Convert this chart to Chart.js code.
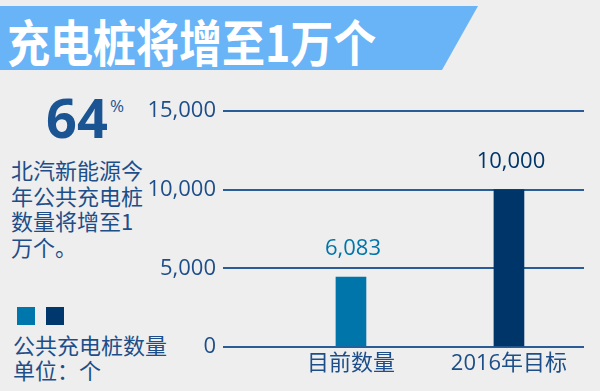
<!DOCTYPE html>
<html>
<head>
<meta charset="utf-8">
<script src="https://cdn.jsdelivr.net/npm/chart.js@4/dist/chart.umd.min.js"></script>
<style>
  html, body { margin: 0; padding: 0; background: #eeeeee; }
  #wrap { position: relative; width: 600px; height: 391px; overflow: hidden; background: #eeeeee;
    font-family: "Noto Sans CJK SC", sans-serif; color: #1d4e89; }
  #chart { position: absolute; left: 0; top: 0; }
  .banner { position: absolute; left: 0; top: 6px; width: 478px; height: 64px; background: #69b3f7;
    clip-path: polygon(0 0, 478px 0, 442px 64px, 0 64px); }
  .banner span { position: absolute; left: 7px; top: 6px; font-size: 50px; font-weight: 700; color: #fff;
    line-height: 56px; white-space: nowrap; transform: scaleX(0.86); transform-origin: left center; }
  .big { position: absolute; left: 46px; top: 82px; font-family: "Open Sans", sans-serif; font-size: 54px;
    font-weight: 700; color: #1b5493; line-height: 70px; }
  .pct { position: absolute; left: 110px; top: 94px; font-family: "Open Sans", sans-serif; font-size: 17px; color: #1b5493; }
  .para { position: absolute; left: 11px; top: 157px; width: 140px; font-size: 22px; line-height: 25.5px; }
  .sq { position: absolute; top: 307px; width: 18px; height: 18px; }
  .leg { position: absolute; left: 13px; top: 332px; font-size: 22px; line-height: 25px; white-space: nowrap; }
</style>
</head>
<body>
<div id="wrap">
  <div class="banner"><span>充电桩将增至1万个</span></div>
  <div class="big">64</div>
  <div class="pct">%</div>
  <div class="para">北汽新能源今年公共充电桩数量将增至1万个。</div>
  <div class="sq" style="left:17px;background:#0077ac"></div>
  <div class="sq" style="left:46px;background:#00386d"></div>
  <div class="leg">公共充电桩数量<br>单位：个</div>
  <canvas id="chart" width="600" height="391"></canvas>
</div>
<script>
'use strict';

const categories = [ '目前数量', '2016年目标' ];
const barValues = [ 4450, 10000 ];
const valueLabels = [ '6,083', '10,000' ];
const barColors = [ '#0075aa', '#00356a' ];
const yTicks = [ 0, 5000, 10000, 15000 ];

const axisColor = '#1d4e89';
const fontFamily = '"Open Sans", "Noto Sans CJK SC", sans-serif';

// draws the number above each bar
const valueLabelPlugin = {
	id: 'valueLabels',
	afterDatasetsDraw: function ( chart ) {
		const ctx = chart.ctx;
		const meta = chart.getDatasetMeta( 0 );
		ctx.save();
		ctx.font = '22px ' + fontFamily;
		ctx.textAlign = 'center';
		ctx.textBaseline = 'middle';
		meta.data.forEach( ( bar, i ) => {
			ctx.fillStyle = barColors[ i ];
			ctx.fillText( valueLabels[ i ], bar.x + 2, bar.y - 28 );
		} );
		ctx.restore();
	}
};

new Chart( document.getElementById( 'chart' ), {
	type: 'bar',
	data: {
		datasets: [ {
			data: categories.map( ( c, i ) => ( { x: i + 1, y: barValues[ i ] } ) ),
			backgroundColor: barColors,
			barThickness: 30,
			borderWidth: 0,
		} ],
	},
	options: {
		responsive: false,
		animation: false,
		devicePixelRatio: 1,
		layout: { padding: { top: 111, right: 16, left: 0, bottom: 0 } },
		plugins: { legend: { display: false }, tooltip: { enabled: false } },
		scales: {
			x: {
				type: 'linear',
				offset: false,
				min: 0.19,
				max: 2.475,
				grid: { display: false, offset: false },
				border: { display: false },
				afterBuildTicks: function ( scale ) {
					scale.ticks = categories.map( ( c, i ) => ( { value: i + 1 } ) );
				},
				afterFit: function ( scale ) {
					scale.height = 44;
				},
				ticks: {
					color: axisColor,
					padding: -4,
					font: { size: 22, family: fontFamily },
					maxRotation: 0,
					callback: ( v ) => categories[ v - 1 ] || '',
				},
			},
			y: {
				min: 0,
				max: 15000,
				afterBuildTicks: function ( scale ) {
					scale.ticks = yTicks.map( ( v ) => ( { value: v } ) );
				},
				afterFit: function ( scale ) {
					scale.width = 223;
				},
				grid: { color: '#2a5d97', lineWidth: 2, drawTicks: false },
				border: { display: false },
				ticks: {
					color: axisColor,
					padding: 7,
					font: { size: 22, family: fontFamily },
					callback: ( v ) => v.toLocaleString( 'en-US' ),
				},
			},
		},
	},
	plugins: [ valueLabelPlugin ],
} );
</script>
</body>
</html>
